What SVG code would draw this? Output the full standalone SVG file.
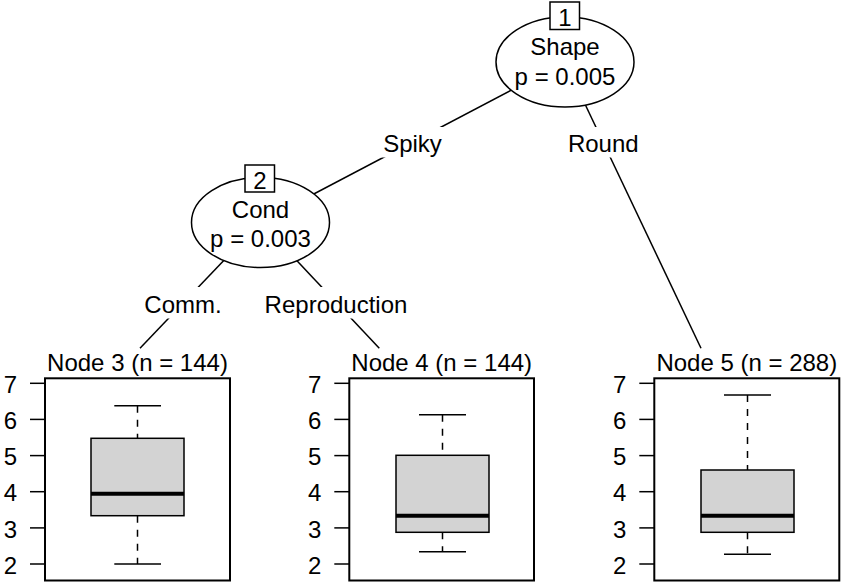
<svg xmlns="http://www.w3.org/2000/svg" width="841" height="583" viewBox="0 0 841 583">
<style>
text{font-family:"Liberation Sans",Arial,Helvetica,sans-serif;font-size:24px;fill:#000}
.mid{text-anchor:middle}
.end{text-anchor:end}
.edge{stroke:#000;stroke-width:1.5;fill:none}
.lblbg{fill:#fff;stroke:none}
.ell{fill:#fff;stroke:#000;stroke-width:1.5}
.idbox{fill:#fff;stroke:#000;stroke-width:1.5}
.panel{fill:none;stroke:#000;stroke-width:2}
.tick{stroke:#000;stroke-width:1.5}
.box{fill:#d3d3d3;stroke:#000;stroke-width:1.5}
.med{stroke:#000;stroke-width:4}
.whisk{stroke:#000;stroke-width:1.5;stroke-dasharray:7 7}
.cap{stroke:#000;stroke-width:1.5}
</style>
<rect width="841" height="583" fill="#fff"/>
<g id="connectors">
<line class="edge" x1="565" y1="62" x2="260.5" y2="222"/>
<line class="edge" x1="565" y1="62" x2="701" y2="348.3"/>
<line class="edge" x1="260.5" y1="222" x2="140" y2="348.3"/>
<line class="edge" x1="260.5" y1="222" x2="379.3" y2="348.3"/>
<rect class="lblbg" x="381" y="127" width="63" height="30.5"/>
<text class="mid" x="412.5" y="152">Spiky</text>
<rect class="lblbg" x="566" y="127" width="75" height="30.5"/>
<text class="mid" x="603.3" y="152">Round</text>
<rect class="lblbg" x="142" y="287" width="82" height="31.5"/>
<text class="mid" x="183" y="313">Comm.</text>
<rect class="lblbg" x="262" y="287" width="148" height="31.5"/>
<text class="mid" x="336" y="313">Reproduction</text>
</g>
<g id="node1">
<ellipse class="ell" cx="565" cy="62" rx="69" ry="45"/>
<rect class="idbox" x="550" y="2" width="29.5" height="27.5"/>
<text class="mid" x="565" y="26">1</text>
<text class="mid" x="565" y="55">Shape</text>
<text class="mid" x="565" y="85">p = 0.005</text>
</g>
<g id="node2">
<ellipse class="ell" cx="260.5" cy="222.5" rx="69" ry="45"/>
<rect class="idbox" x="245" y="165" width="29.5" height="27"/>
<text class="mid" x="260" y="188.5">2</text>
<text class="mid" x="260.5" y="218">Cond</text>
<text class="mid" x="260.5" y="247">p = 0.003</text>
</g>
<g id="node3">
<text class="mid" x="137.5" y="371">Node 3 (n = 144)</text>
<line class="tick" x1="30" y1="383.3" x2="45" y2="383.3"/>
<line class="tick" x1="30" y1="419.4" x2="45" y2="419.4"/>
<line class="tick" x1="30" y1="455.6" x2="45" y2="455.6"/>
<line class="tick" x1="30" y1="491.7" x2="45" y2="491.7"/>
<line class="tick" x1="30" y1="527.9" x2="45" y2="527.9"/>
<line class="tick" x1="30" y1="564" x2="45" y2="564"/>
<text class="end" x="17" y="393">7</text>
<text class="end" x="17" y="429">6</text>
<text class="end" x="17" y="465">5</text>
<text class="end" x="17" y="501">4</text>
<text class="end" x="17" y="537.5">3</text>
<text class="end" x="17" y="573.5">2</text>
<line class="whisk" x1="137.5" y1="405.7" x2="137.5" y2="438.3"/>
<line class="whisk" x1="137.5" y1="515.7" x2="137.5" y2="564"/>
<line class="cap" x1="114.3" y1="405.7" x2="161" y2="405.7"/>
<line class="cap" x1="114.3" y1="564" x2="161" y2="564"/>
<rect class="box" x="91" y="438.3" width="93" height="77.4"/>
<line class="med" x1="91" y1="493.7" x2="184" y2="493.7"/>
<rect class="panel" x="45" y="378.3" width="185" height="202.2"/>
</g>
<g id="node4">
<text class="mid" x="441.7" y="371">Node 4 (n = 144)</text>
<line class="tick" x1="334.3" y1="383.3" x2="349.3" y2="383.3"/>
<line class="tick" x1="334.3" y1="419.4" x2="349.3" y2="419.4"/>
<line class="tick" x1="334.3" y1="455.6" x2="349.3" y2="455.6"/>
<line class="tick" x1="334.3" y1="491.7" x2="349.3" y2="491.7"/>
<line class="tick" x1="334.3" y1="527.9" x2="349.3" y2="527.9"/>
<line class="tick" x1="334.3" y1="564" x2="349.3" y2="564"/>
<text class="end" x="321.3" y="393">7</text>
<text class="end" x="321.3" y="429">6</text>
<text class="end" x="321.3" y="465">5</text>
<text class="end" x="321.3" y="501">4</text>
<text class="end" x="321.3" y="537.5">3</text>
<text class="end" x="321.3" y="573.5">2</text>
<line class="whisk" x1="442.5" y1="414.7" x2="442.5" y2="455.3"/>
<line class="whisk" x1="442.5" y1="532.3" x2="442.5" y2="551.7"/>
<line class="cap" x1="419" y1="414.7" x2="466" y2="414.7"/>
<line class="cap" x1="419" y1="551.7" x2="466" y2="551.7"/>
<rect class="box" x="396" y="455.3" width="93" height="77"/>
<line class="med" x1="396" y1="515.7" x2="489" y2="515.7"/>
<rect class="panel" x="349.3" y="378.3" width="184.7" height="202.2"/>
</g>
<g id="node5">
<text class="mid" x="746.8" y="371">Node 5 (n = 288)</text>
<line class="tick" x1="639.3" y1="383.3" x2="654.3" y2="383.3"/>
<line class="tick" x1="639.3" y1="419.4" x2="654.3" y2="419.4"/>
<line class="tick" x1="639.3" y1="455.6" x2="654.3" y2="455.6"/>
<line class="tick" x1="639.3" y1="491.7" x2="654.3" y2="491.7"/>
<line class="tick" x1="639.3" y1="527.9" x2="654.3" y2="527.9"/>
<line class="tick" x1="639.3" y1="564" x2="654.3" y2="564"/>
<text class="end" x="626.3" y="393">7</text>
<text class="end" x="626.3" y="429">6</text>
<text class="end" x="626.3" y="465">5</text>
<text class="end" x="626.3" y="501">4</text>
<text class="end" x="626.3" y="537.5">3</text>
<text class="end" x="626.3" y="573.5">2</text>
<line class="whisk" x1="747.5" y1="395" x2="747.5" y2="470"/>
<line class="whisk" x1="747.5" y1="532.3" x2="747.5" y2="554.3"/>
<line class="cap" x1="724" y1="395" x2="771" y2="395"/>
<line class="cap" x1="724" y1="554.3" x2="771" y2="554.3"/>
<rect class="box" x="701" y="470" width="93" height="62.3"/>
<line class="med" x1="701" y1="515.7" x2="794" y2="515.7"/>
<rect class="panel" x="654.3" y="378.3" width="185" height="202.2"/>
</g>
</svg>
